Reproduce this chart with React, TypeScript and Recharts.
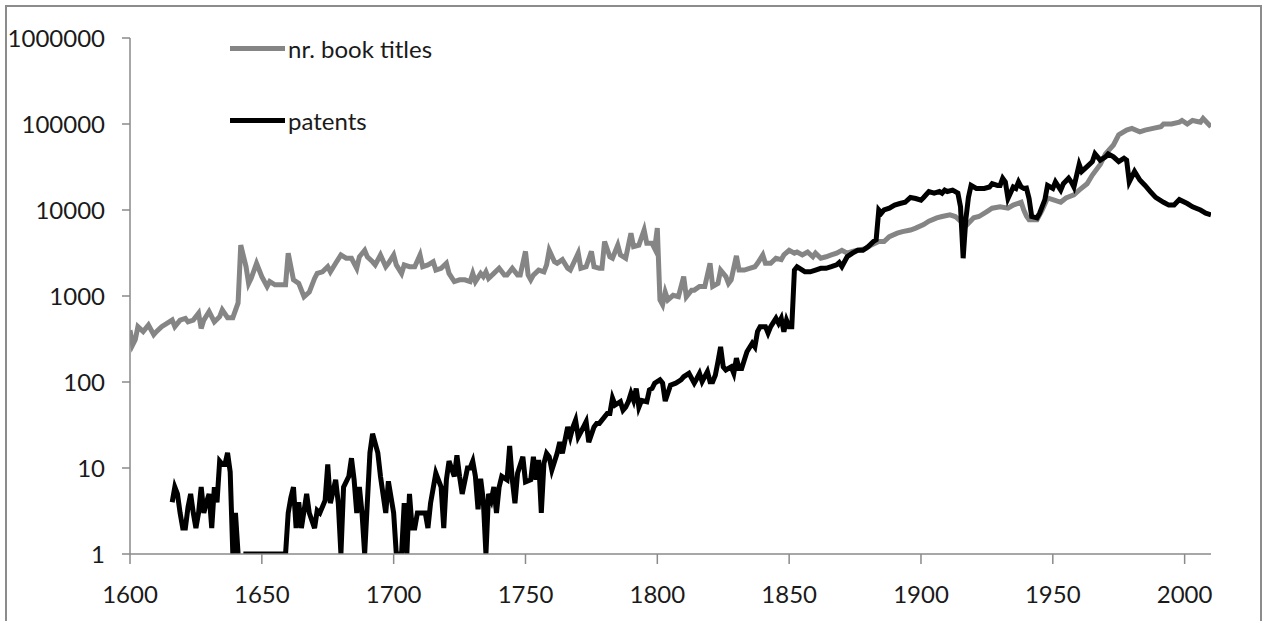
import { Line, LineChart, XAxis, YAxis } from "recharts";

// [year, count] (log scale)
const bookTitles: [number, number][] = [
  [1600, 400], [1601, 270], [1602, 310], [1603, 440], [1605, 385], [1607, 460], [1609, 355], [1610, 385],
  [1612, 440], [1614, 480], [1616, 525], [1617, 440], [1619, 525], [1621, 550], [1622, 500], [1624, 525],
  [1626, 630], [1627, 420], [1628, 525], [1630, 660], [1632, 500], [1634, 575], [1635, 690], [1637, 560],
  [1639, 560], [1641, 830], [1642, 3900], [1644, 2200], [1645, 1400], [1646, 1620], [1648, 2400], [1650, 1680],
  [1652, 1290], [1653, 1470], [1655, 1350], [1659, 1350], [1660, 3150], [1662, 1540], [1664, 1400], [1666, 980],
  [1668, 1110], [1670, 1600], [1671, 1830], [1673, 1910], [1675, 2190], [1676, 1910], [1678, 2400], [1680, 3000],
  [1682, 2750], [1684, 2750], [1686, 2100], [1687, 2860], [1689, 3400], [1690, 2860], [1692, 2500], [1693, 2300],
  [1695, 3000], [1697, 2190], [1698, 2400], [1700, 3000], [1701, 2300], [1703, 1830], [1704, 2300], [1706, 2190],
  [1708, 2190], [1710, 3000], [1711, 2190], [1713, 2300], [1715, 2500], [1716, 2000], [1718, 2100], [1720, 2400],
  [1721, 1830], [1723, 1470], [1725, 1540], [1727, 1540], [1729, 1470], [1730, 1830], [1731, 1470], [1733, 1830],
  [1734, 1680], [1735, 1910], [1736, 1600], [1738, 1830], [1740, 2100], [1742, 1750], [1743, 1750], [1745, 2100],
  [1747, 1750], [1748, 1750], [1750, 3300], [1751, 1750], [1752, 1540], [1753, 1750], [1755, 2000], [1757, 1910],
  [1758, 2300], [1759, 3400], [1761, 2500], [1762, 2400], [1764, 2650], [1766, 2100], [1767, 2000], [1770, 3150],
  [1771, 2100], [1773, 2190], [1775, 3300], [1776, 2190], [1778, 2100], [1779, 2100], [1780, 4300], [1782, 2860],
  [1783, 2750], [1785, 3900], [1786, 3000], [1788, 2750], [1790, 5370], [1791, 3750], [1793, 3900], [1795, 5850],
  [1796, 4100], [1798, 4100], [1799, 3560], [1800, 6150], [1801, 900], [1802, 790], [1803, 1110], [1804, 900],
  [1806, 1020], [1808, 980], [1810, 1680], [1811, 980], [1813, 1170], [1814, 1170], [1816, 1290], [1818, 1290],
  [1820, 2400], [1821, 1290], [1823, 1400], [1824, 2000], [1826, 1680], [1827, 1400], [1828, 1540], [1830, 2930],
  [1831, 2000], [1833, 2000], [1835, 2100], [1837, 2190], [1838, 2400], [1840, 3000], [1841, 2400], [1843, 2400],
  [1845, 2750], [1847, 2650], [1848, 3000], [1850, 3400], [1852, 3150], [1853, 3250], [1855, 3000], [1857, 3250],
  [1859, 2860], [1860, 3150], [1862, 2750], [1864, 2860], [1866, 3000], [1868, 3150], [1870, 3400], [1872, 3150],
  [1874, 3300], [1876, 3400], [1879, 3560], [1881, 3900], [1884, 4300], [1886, 4300], [1888, 4900], [1891, 5370],
  [1893, 5600], [1896, 5850], [1898, 6150], [1901, 6760], [1903, 7400], [1906, 8100], [1908, 8400], [1911, 8800],
  [1913, 8400], [1915, 7400], [1917, 6500], [1918, 7000], [1920, 8100], [1922, 8400], [1925, 9600], [1927, 10500],
  [1930, 10900], [1933, 10500], [1935, 11400], [1938, 12300], [1939, 10000], [1940, 8500], [1941, 7700], [1942, 7700],
  [1944, 7700], [1946, 10000], [1948, 13800], [1950, 13200], [1953, 12300], [1955, 13800], [1958, 15000], [1960, 17000],
  [1963, 20200], [1965, 25500], [1968, 33900], [1970, 45000], [1973, 57000], [1975, 75000], [1978, 85000], [1980, 89000],
  [1983, 81000], [1985, 85000], [1988, 89000], [1991, 93000], [1992, 100000], [1995, 100000], [1998, 105000], [1999, 110000],
  [2001, 100000], [2003, 110000], [2006, 105000], [2007, 116000], [2009, 100000], [2010, 93000],
];

const patents: [number, number | null][] = [
  [1616, 4], [1617, 6], [1618, 5], [1619, 3], [1620, 2], [1621, 2], [1622, 3.5], [1623, 5], [1624, 3], [1625, 2],
  [1626, 3], [1627, 6], [1628, 3], [1629, 4], [1630, 5], [1631, 2], [1632, 6], [1633, 4], [1634, 12], [1635, 11],
  [1636, 11], [1637, 15], [1638, 9], [1639, 1], [1640, 3], [1641, 1], [1642, null], [1643, 1], [1647, 1], [1651, 1],
  [1655, 1], [1659, 1], [1660, 3], [1661, 4.5], [1662, 6], [1663, 2], [1664, 4], [1665, 2], [1667, 5], [1668, 3],
  [1670, 2], [1671, 3.2], [1672, 3], [1674, 4.2], [1675, 11], [1676, 3.9], [1678, 7.3], [1679, 3.9], [1680, 1], [1681, 6],
  [1683, 8], [1684, 13], [1685, 7.3], [1686, 3], [1687, 6], [1688, 3], [1689, 1], [1691, 15], [1692, 25], [1694, 15],
  [1695, 8], [1697, 3], [1698, 7], [1700, 3], [1701, 1], [1702, 1], [1703, 1], [1704, 3.9], [1705, 1], [1706, 5],
  [1707, 2], [1708, 2], [1709, 3], [1712, 3], [1713, 2], [1714, 3.9], [1716, 8.7], [1718, 6], [1719, 2], [1720, 7.3],
  [1721, 12], [1723, 8], [1724, 14], [1725, 8], [1726, 5], [1728, 10], [1729, 10], [1730, 12], [1731, 8], [1732, 3.3],
  [1733, 7.5], [1734, 4.2], [1735, 1], [1736, 5], [1737, 4.2], [1738, 6], [1739, 3], [1740, 6], [1741, 8], [1743, 7.3],
  [1744, 18], [1745, 7.3], [1746, 3.9], [1747, 8.7], [1749, 13.5], [1750, 6.9], [1752, 7.3], [1753, 13.5], [1754, 7.3], [1755, 12.4],
  [1756, 3], [1757, 11.3], [1758, 14.8], [1759, 13.5], [1760, 9.5], [1762, 14.8], [1763, 20], [1764, 14.8], [1766, 30], [1767, 23],
  [1768, 30], [1769, 36], [1770, 23], [1772, 30], [1773, 34.5], [1774, 20], [1776, 30], [1777, 33], [1778, 33], [1779, 36],
  [1781, 43], [1782, 43], [1783, 65], [1784, 54], [1786, 59], [1787, 47], [1788, 51], [1789, 59], [1790, 74], [1791, 61],
  [1792, 84], [1793, 51], [1794, 61], [1796, 59], [1797, 81], [1798, 84], [1799, 97], [1801, 106], [1802, 97], [1803, 60],
  [1805, 92], [1807, 97], [1809, 106], [1810, 115], [1812, 126], [1814, 97], [1815, 110], [1816, 126], [1817, 101], [1819, 132],
  [1820, 101], [1821, 101], [1822, 120], [1823, 172], [1824, 256], [1825, 150], [1826, 138], [1828, 150], [1829, 126], [1830, 189],
  [1831, 144], [1832, 144], [1833, 180], [1834, 225], [1836, 282], [1837, 256], [1838, 385], [1839, 440], [1841, 440], [1842, 370],
  [1843, 440], [1845, 550], [1846, 480], [1847, 550], [1848, 385], [1849, 525], [1850, 440], [1851, 440], [1852, 2000], [1853, 2190],
  [1855, 2000], [1856, 1910], [1858, 1910], [1860, 2000], [1862, 2100], [1864, 2100], [1866, 2190], [1868, 2300], [1869, 2450], [1870, 2200],
  [1872, 2860], [1874, 3150], [1876, 3400], [1878, 3400], [1880, 3750], [1882, 4300], [1883, 4500], [1884, 10000], [1885, 9200], [1886, 10000],
  [1888, 10500], [1890, 11400], [1892, 11900], [1894, 12300], [1896, 14000], [1898, 13600], [1900, 13000], [1901, 14000], [1903, 16400], [1905, 15700],
  [1907, 16400], [1908, 15700], [1909, 17000], [1910, 16400], [1912, 17000], [1914, 15700], [1915, 10900], [1916, 2750], [1917, 7700], [1918, 14000],
  [1919, 19300], [1921, 17800], [1924, 17800], [1926, 18500], [1927, 20200], [1929, 19300], [1930, 19300], [1931, 23400], [1932, 21200], [1933, 13600],
  [1935, 18500], [1936, 17800], [1937, 21200], [1938, 18500], [1939, 17800], [1940, 18000], [1941, 13600], [1942, 8400], [1944, 8100], [1945, 9200],
  [1947, 13200], [1948, 19300], [1950, 17800], [1951, 21200], [1953, 17000], [1954, 20200], [1956, 23400], [1957, 21200], [1958, 18500], [1960, 33900],
  [1961, 28100], [1963, 32000], [1965, 36500], [1966, 45000], [1968, 38000], [1970, 41500], [1971, 45000], [1973, 41500], [1975, 36500], [1977, 40000],
  [1978, 38000], [1979, 21200], [1981, 28100], [1983, 22300], [1985, 19300], [1987, 16400], [1989, 14000], [1992, 12300], [1994, 11400], [1996, 11400],
  [1998, 13200], [2001, 11900], [2003, 10900], [2006, 10000], [2008, 9200], [2010, 8800],
];

const yearTicks = [1600, 1650, 1700, 1750, 1800, 1850, 1900, 1950, 2000];
const countTicks = [1, 10, 100, 1000, 10000, 100000, 1000000];

const series = [
  { name: "nr. book titles", color: "#858585" },
  { name: "patents", color: "#000000" },
];

const FONT = "Lato, 'Open Sans', sans-serif";
const AXIS = "#8a8a8a";

const bookData = bookTitles.map(([year, value]) => ({ year, value }));
const patentData = patents.map(([year, value]) => ({ year, value }));

function LegendBox() {
  return (
    <div style={{ position: "absolute", left: 230, top: 12, fontFamily: FONT, fontSize: 24, color: "#1a1a1a" }}>
      {series.map((s) => (
        <div key={s.name} style={{ display: "flex", alignItems: "center", height: 72 }}>
          <span style={{ display: "inline-block", width: 55, height: 5, background: s.color, marginRight: 3 }} />
          <span>{s.name}</span>
        </div>
      ))}
    </div>
  );
}

export default function App() {
  return (
    <div style={{ position: "relative", width: 1263, height: 621, background: "#fff", overflow: "hidden" }}>
      <style>{`html,body{margin:0;padding:0;overflow:hidden;background:#fff}`}</style>
      <div
        style={{
          position: "absolute",
          left: 5,
          top: 5,
          width: 1253,
          height: 630,
          borderTop: "2px solid #8c8c8c",
          borderLeft: "2px solid #8c8c8c",
          borderRight: "2px solid #8c8c8c",
        }}
      />
      <div style={{ position: "absolute", left: 0, top: 0 }}>
        <LineChart width={1263} height={621} margin={{ top: 38, right: 52, left: 5, bottom: 7 }}>
          <XAxis
            type="number"
            dataKey="year"
            domain={[1600, 2010]}
            ticks={yearTicks}
            allowDataOverflow
            stroke={AXIS}
            strokeWidth={1.5}
            tickSize={10}
            tickMargin={22}
            height={60}
            tick={{ fill: "#1a1a1a", fontSize: 24, fontFamily: FONT }}
          />
          <YAxis
            scale="log"
            domain={[1, 1000000]}
            ticks={countTicks}
            allowDataOverflow
            stroke={AXIS}
            strokeWidth={1.5}
            tickSize={8}
            tickMargin={17}
            width={125}
            tick={{ fill: "#1a1a1a", fontSize: 24, fontFamily: FONT }}
          />
          <Line
            data={bookData}
            dataKey="value"
            name={series[0].name}
            type="linear"
            stroke={series[0].color}
            strokeWidth={5}
            dot={false}
            isAnimationActive={false}
          />
          <Line
            data={patentData}
            dataKey="value"
            name={series[1].name}
            type="linear"
            stroke={series[1].color}
            strokeWidth={5}
            dot={false}
            isAnimationActive={false}
          />
        </LineChart>
      </div>
      <LegendBox />
    </div>
  );
}
